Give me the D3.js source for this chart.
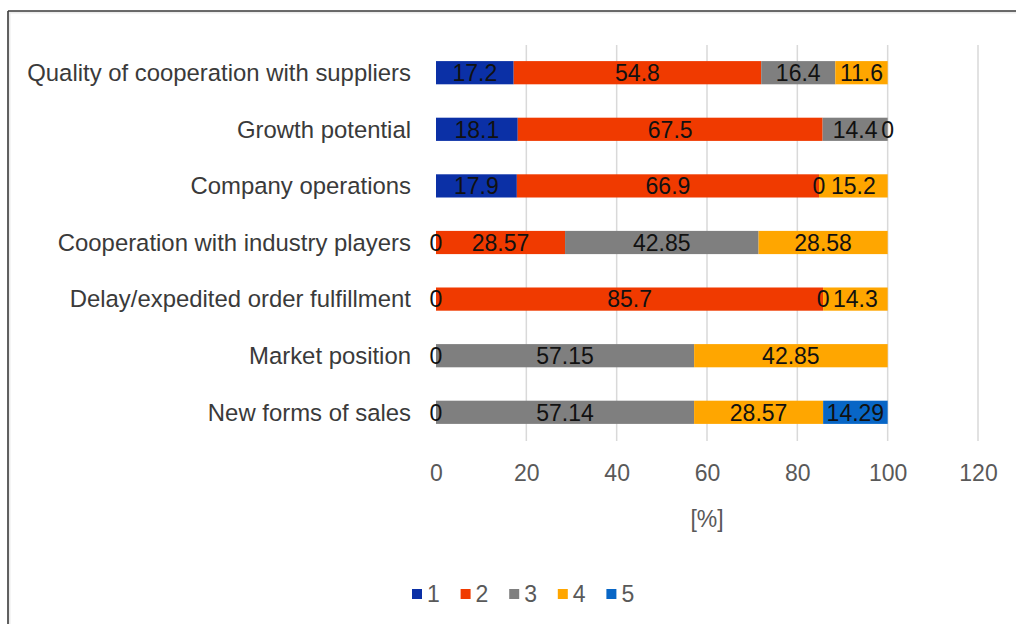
<!DOCTYPE html>
<html>
<head>
<meta charset="utf-8">
<script src="https://cdn.jsdelivr.net/npm/d3@7"></script>
<style>
  html, body { margin: 0; padding: 0; background: #ffffff; }
  svg { display: block; }
  text { font-family: "Liberation Sans", Arial, sans-serif; }
</style>
</head>
<body>
<svg id="chart" width="1016" height="624"></svg>
<script>
// Categories, top to bottom
const categories = [
  "Quality of cooperation with suppliers",
  "Growth potential",
  "Company operations",
  "Cooperation with industry players",
  "Delay/expedited order fulfillment",
  "Market position",
  "New forms of sales"
];

// Share of answers per rating (null = no answer given)
const rating1 = [17.2, 18.1, 17.9, 0, 0, 0, 0];
const rating2 = [54.8, 67.5, 66.9, 28.57, 85.7, null, null];
const rating3 = [16.4, 14.4, 0, 42.85, 0, 57.15, 57.14];
const rating4 = [11.6, 0, 15.2, 28.58, 14.3, 42.85, 28.57];
const rating5 = [null, null, null, null, null, null, 14.29];

const seriesNames = ["1", "2", "3", "4", "5"];
const seriesValues = [rating1, rating2, rating3, rating4, rating5];
const seriesColors = ["#0b30a6", "#f03a00", "#7f7f7f", "#ffa600", "#0866c6"];

const xTicks = [0, 20, 40, 60, 80, 100, 120];
const xTitle = "[%]";

const svg = d3.select("#chart");

// Outer frame with a soft inner edge
svg.append("rect").attr("x", 9).attr("y", 12).attr("width", 1010).attr("height", 615)
  .attr("fill", "none").attr("stroke", "#ececec").attr("stroke-width", 3);
svg.append("line").attr("x1", 8).attr("x2", 1016).attr("y1", 11).attr("y2", 11)
  .attr("stroke", "#3c3c3c").attr("stroke-width", 1.6);
svg.append("line").attr("x1", 8).attr("x2", 8).attr("y1", 11).attr("y2", 624)
  .attr("stroke", "#3c3c3c").attr("stroke-width", 1.6);

const x = d3.scaleLinear().domain([0, 120]).range([436, 978]);
const y = d3.scaleBand().domain(categories).range([44.4, 440.6])
  .paddingInner(0.59).paddingOuter(0.295);

// Vertical gridlines
svg.append("g").selectAll("line")
  .data(xTicks.filter(t => t > 0))
  .join("line")
  .attr("x1", d => x(d)).attr("x2", d => x(d))
  .attr("y1", 45).attr("y2", 441)
  .attr("stroke", "#d9d9d9").attr("stroke-width", 1.5);

// Bottom axis labels
const xAxis = d3.axisBottom(x).tickValues(xTicks).tickSize(0).tickPadding(0);
const gx = svg.append("g").attr("transform", "translate(0,473)").call(xAxis);
gx.select(".domain").remove();
gx.selectAll("text")
  .attr("dy", "0.35em").attr("y", 0)
  .attr("font-size", 23).attr("fill", "#595959")
  .attr("font-family", "'Liberation Sans', Arial, sans-serif");

svg.append("text").attr("x", (x(0) + x(120)) / 2).attr("y", 519).attr("dy", "0.35em")
  .attr("text-anchor", "middle").attr("font-size", 23).attr("fill", "#595959")
  .text(xTitle);

// Category axis labels
const yAxis = d3.axisLeft(y).tickSize(0).tickPadding(0);
const gy = svg.append("g").attr("transform", "translate(411,0)").call(yAxis);
gy.select(".domain").remove();
gy.selectAll("text")
  .attr("x", 0).attr("dy", "0.35em")
  .attr("font-size", 23.9).attr("fill", "#3a3a3a")
  .attr("font-family", "'Liberation Sans', Arial, sans-serif");

// Stacked segments
const segments = [];
categories.forEach((cat, i) => {
  let start = 0;
  seriesValues.forEach((vals, s) => {
    const v = vals[i];
    if (v === null) return;
    segments.push({ cat, s, start, value: v });
    start += v;
  });
});

svg.append("g").selectAll("rect")
  .data(segments.filter(d => d.value > 0))
  .join("rect")
  .attr("x", d => x(d.start))
  .attr("width", d => x(d.start + d.value) - x(d.start))
  .attr("y", d => y(d.cat))
  .attr("height", y.bandwidth())
  .attr("fill", d => seriesColors[d.s]);

// Value labels centred on each segment
svg.append("g").selectAll("text")
  .data(segments)
  .join("text")
  .attr("x", d => x(d.start + d.value / 2))
  .attr("y", d => y(d.cat) + y.bandwidth() / 2)
  .attr("dy", "0.36em")
  .attr("text-anchor", "middle")
  .attr("font-size", 23)
  .attr("fill", "#111111")
  .text(d => String(d.value));

// Legend
const legend = svg.append("g").attr("transform", "translate(412,594)");
const item = legend.selectAll("g").data(seriesNames).join("g")
  .attr("transform", (d, i) => `translate(${i * 48.6},0)`);
item.append("rect").attr("x", 0).attr("y", -5).attr("width", 10).attr("height", 10)
  .attr("fill", (d, i) => seriesColors[i]);
item.append("text").attr("x", 15).attr("y", 0).attr("dy", "0.36em")
  .attr("font-size", 23).attr("fill", "#595959").text(d => d);
</script>
</body>
</html>
